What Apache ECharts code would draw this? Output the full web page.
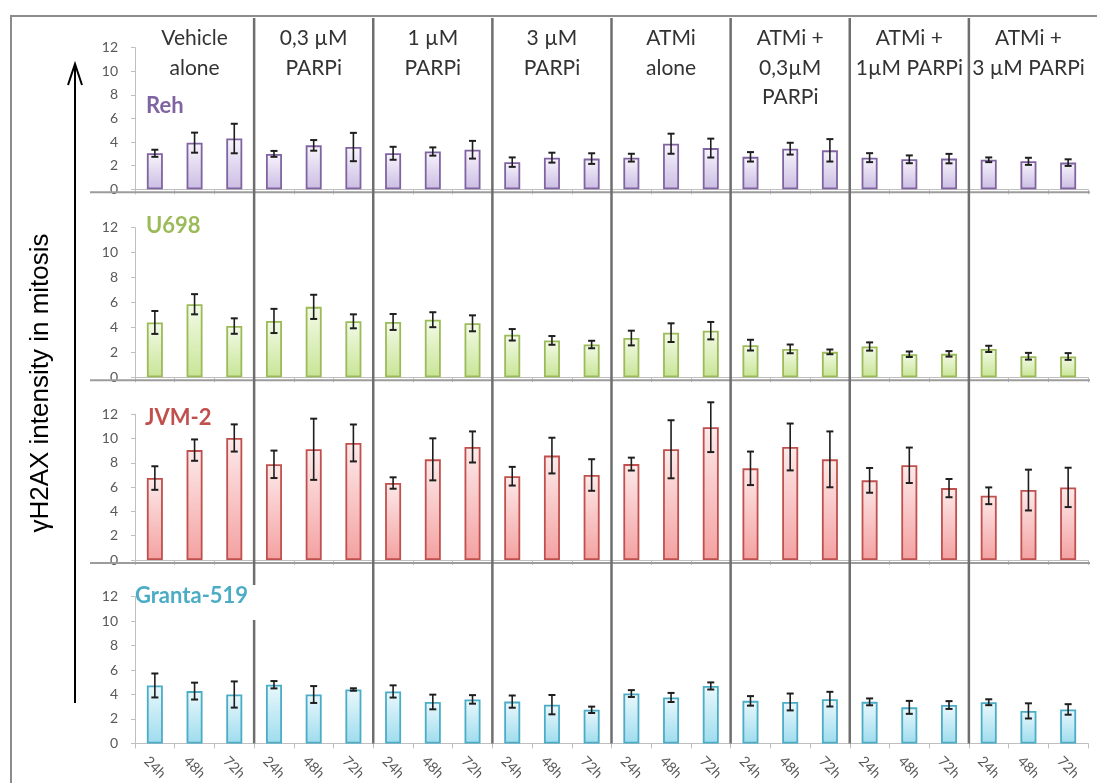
<!DOCTYPE html>
<html>
<head>
<meta charset="utf-8">
<script src="https://cdn.jsdelivr.net/npm/echarts@6/dist/echarts.min.js"></script>
<style>
  html, body { margin: 0; padding: 0; background: #ffffff; }
  #chart { width: 1097px; height: 783px; }
</style>
</head>
<body>
<div id="chart"></div>
<script>
// Treatment groups (column headers) and time points inside each group
const groups = ['Vehicle\nalone', '0,3 µM\nPARPi', '1 µM\nPARPi', '3 µM\nPARPi',
                'ATMi\nalone', 'ATMi +\n0,3µM\nPARPi', 'ATMi +\n1µM PARPi', 'ATMi +\n3 µM PARPi'];
const timePoints = ['24h', '48h', '72h'];
const cellLines = ['Reh', 'U698', 'JVM-2', 'Granta-519'];

// y axis scale shared by all panels
const yMin = 0, yMax = 12, yStep = 2;

// γH2AX intensity (mean) and error half-width, 8 groups x 3 time points
const rehMean   = [3.05, 3.95, 4.30,  3.00, 3.72, 3.58,  3.05, 3.20, 3.35,  2.30, 2.68, 2.60,
                   2.68, 3.86, 3.49,  2.75, 3.44, 3.30,  2.68, 2.54, 2.60,  2.50, 2.37, 2.26];
const rehErr    = [0.30, 0.85, 1.25,  0.25, 0.45, 1.20,  0.55, 0.35, 0.75,  0.40, 0.42, 0.45,
                   0.33, 0.85, 0.80,  0.40, 0.50, 0.95,  0.38, 0.33, 0.40,  0.20, 0.30, 0.28];

const u698Mean  = [4.40, 5.86, 4.11,  4.52, 5.65, 4.49,  4.44, 4.62, 4.33,  3.41, 2.96, 2.63,
                   3.15, 3.58, 3.74,  2.58, 2.28, 2.04,  2.47, 1.85, 1.88,  2.28, 1.69, 1.67];
const u698Err   = [0.92, 0.81, 0.62,  0.97, 0.97, 0.56,  0.64, 0.60, 0.64,  0.46, 0.35, 0.30,
                   0.59, 0.75, 0.70,  0.43, 0.35, 0.19,  0.33, 0.22, 0.22,  0.25, 0.27, 0.27];

const jvmMean   = [6.75, 9.05, 10.05, 7.88, 9.12, 9.64,  6.34, 8.29, 9.31,  6.90, 8.60, 7.00,
                   7.90, 9.12, 10.94, 7.55, 9.31, 8.29,  6.56, 7.80, 5.92,  5.29, 5.76, 5.98];
const jvmErr    = [0.97, 0.88, 1.12,  1.13, 2.52, 1.52,  0.47, 1.73, 1.28,  0.77, 1.47, 1.30,
                   0.53, 2.39, 2.05,  1.38, 1.93, 2.30,  1.02, 1.46, 0.75,  0.69, 1.68, 1.62];

const grantaMean = [4.74, 4.28, 4.00, 4.80, 4.00, 4.41,  4.25, 3.39, 3.60,  3.42, 3.17, 2.75,
                    4.08, 3.76, 4.70, 3.48, 3.39, 3.62,  3.40, 2.95, 3.14,  3.37, 2.66, 2.78];
const grantaErr  = [0.98, 0.69, 1.07, 0.30, 0.69, 0.10,  0.50, 0.60, 0.35,  0.50, 0.79, 0.26,
                    0.28, 0.37, 0.29, 0.39, 0.69, 0.60,  0.28, 0.53, 0.32,  0.24, 0.62, 0.43];

const panelMeans = [rehMean, u698Mean, jvmMean, grantaMean];
const panelErrs  = [rehErr, u698Err, jvmErr, grantaErr];

// panel styling
const panelColors = [
  { line: '#8064a2', top: '#f8f5fc', bottom: '#cbbde3' },
  { line: '#9bbb59', top: '#f4fae8', bottom: '#c8e596' },
  { line: '#c0504d', top: '#fdeaea', bottom: '#f4a1a1' },
  { line: '#4bacc6', top: '#eaf8fc', bottom: '#9edcee' }
];
const panelTops    = [47.6, 227.7, 414.3, 596.7];
const panelHeights = [141.7, 149.6, 145.7, 147.6];
const panelTitlePos = [[146, 95], [146, 215], [145, 407], [135, 585]];
const gridLeft = 135, gridRight = 9;

const categories = [];
groups.forEach(() => timePoints.forEach(t => categories.push(t)));

const chart = echarts.init(document.getElementById('chart'), null, { renderer: 'canvas' });

const FONT = 'Lato, "Open Sans", sans-serif';
const grids = [], xAxes = [], yAxes = [], series = [], titles = [];

cellLines.forEach((name, k) => {
  const last = k === cellLines.length - 1;
  grids.push({ left: gridLeft, right: gridRight, top: panelTops[k], height: panelHeights[k] });
  xAxes.push({
    type: 'category', gridIndex: k, data: categories, boundaryGap: true,
    axisLine: { show: true, lineStyle: { color: '#bfbfbf', width: 1 } },
    axisTick: { show: true, length: 5, interval: 0, lineStyle: { color: '#bfbfbf' } },
    axisLabel: {
      show: last, interval: 0, rotate: -45, align: 'center', verticalAlign: 'middle',
      margin: 24, color: '#595959', fontSize: 14, fontFamily: FONT
    },
    splitLine: { show: false }
  });
  yAxes.push({
    type: 'value', gridIndex: k, min: yMin, max: yMax, interval: yStep,
    axisLine: { show: true, lineStyle: { color: '#bfbfbf', width: 1 } },
    axisTick: { show: true, length: 4, lineStyle: { color: '#bfbfbf' } },
    axisLabel: { color: '#595959', fontSize: 14, fontFamily: FONT, margin: 17 },
    splitLine: { show: false }
  });
  const c = panelColors[k];
  series.push({
    type: 'bar', name: name, xAxisIndex: k, yAxisIndex: k, barWidth: 16,
    data: panelMeans[k],
    itemStyle: {
      color: new echarts.graphic.LinearGradient(0, 0, 0, 1, [
        { offset: 0, color: c.top }, { offset: 1, color: c.bottom }
      ]),
      borderColor: c.line, borderWidth: 1.8
    },
    silent: true, animation: false
  });
  // error bars (mean ± err) drawn as I-beams
  series.push({
    type: 'custom', xAxisIndex: k, yAxisIndex: k, z: 5, silent: true, animation: false,
    data: panelMeans[k].map((m, i) => [i, m - panelErrs[k][i], m + panelErrs[k][i]]),
    renderItem: (params, api) => {
      const lo = api.coord([api.value(0), api.value(1)]);
      const hi = api.coord([api.value(0), api.value(2)]);
      const cap = 3.5;
      const st = { stroke: '#1e1e1e', lineWidth: 1.6 };
      const capSt = { stroke: '#1e1e1e', lineWidth: 2 };
      return {
        type: 'group',
        children: [
          { type: 'line', shape: { x1: lo[0], y1: lo[1], x2: hi[0], y2: hi[1] }, style: st },
          { type: 'line', shape: { x1: lo[0] - cap, y1: lo[1], x2: lo[0] + cap, y2: lo[1] }, style: capSt },
          { type: 'line', shape: { x1: hi[0] - cap, y1: hi[1], x2: hi[0] + cap, y2: hi[1] }, style: capSt }
        ]
      };
    }
  });
  titles.push({
    text: name, left: panelTitlePos[k][0], top: panelTitlePos[k][1], padding: 0,
    textStyle: { color: c.line, fontSize: 22, fontWeight: 'bold', fontFamily: FONT }
  });
});

// group headers across the top panel
xAxes.push({
  type: 'category', gridIndex: 0, position: 'top', data: groups, boundaryGap: true,
  axisLine: { show: false }, axisTick: { show: false }, splitLine: { show: false },
  axisLabel: {
    interval: 0, margin: 24, verticalAlign: 'top', lineHeight: 29.5,
    color: '#333333', fontSize: 21, fontFamily: FONT
  }
});

chart.setOption({
  backgroundColor: '#ffffff',
  animation: false,
  title: titles,
  grid: grids,
  xAxis: xAxes,
  yAxis: yAxes,
  series: series
});

// frame, arrow, axis title and panel/group separators
const frameTop = 16, sepTop = 18;
const lastAxisY = chart.convertToPixel({ yAxisIndex: 3 }, 0);
const boundaryX = b => {
  const a = chart.convertToPixel({ xAxisIndex: 0 }, b * 3 - 1);
  const c = chart.convertToPixel({ xAxisIndex: 0 }, b * 3);
  return (a + c) / 2;
};
const gfx = [
  { type: 'rect', shape: { x: 11, y: frameTop, width: 1100, height: 800 },
    style: { fill: 'none', stroke: '#8c8c8c', lineWidth: 2 }, z: 1 },
  { type: 'line', shape: { x1: 75, y1: 703, x2: 75, y2: 64 }, style: { stroke: '#000', lineWidth: 2 }, z: 10 },
  { type: 'polyline', shape: { points: [[68, 85], [75, 64], [82, 85]] },
    style: { fill: 'none', stroke: '#000', lineWidth: 2 }, z: 10 },
  { type: 'text', x: 41, y: 383, rotation: Math.PI / 2,
    style: { text: 'γH2AX intensity in mitosis', fill: '#000', font: '26px "Liberation Sans", Arial, sans-serif',
             textAlign: 'center', textVerticalAlign: 'middle' }, z: 10 }
];
for (let k = 0; k < 3; k++) {
  const y = chart.convertToPixel({ yAxisIndex: k }, 0) + 3;
  gfx.push({ type: 'line', shape: { x1: 90, y1: y, x2: 1090, y2: y },
             style: { stroke: '#9c9c9c', lineWidth: 2 }, z: 8 });
}
for (let b = 1; b < groups.length; b++) {
  const x = boundaryX(b);
  if (b === 1) {
    gfx.push({ type: 'line', shape: { x1: x, y1: sepTop, x2: x, y2: 585 }, style: { stroke: '#6e6e6e', lineWidth: 2.5 }, z: 9 });
    gfx.push({ type: 'line', shape: { x1: x, y1: 620, x2: x, y2: lastAxisY }, style: { stroke: '#6e6e6e', lineWidth: 2.5 }, z: 9 });
  } else {
    gfx.push({ type: 'line', shape: { x1: x, y1: sepTop, x2: x, y2: lastAxisY }, style: { stroke: '#6e6e6e', lineWidth: 2.5 }, z: 9 });
  }
}
chart.setOption({ graphic: gfx });
</script>
</body>
</html>
